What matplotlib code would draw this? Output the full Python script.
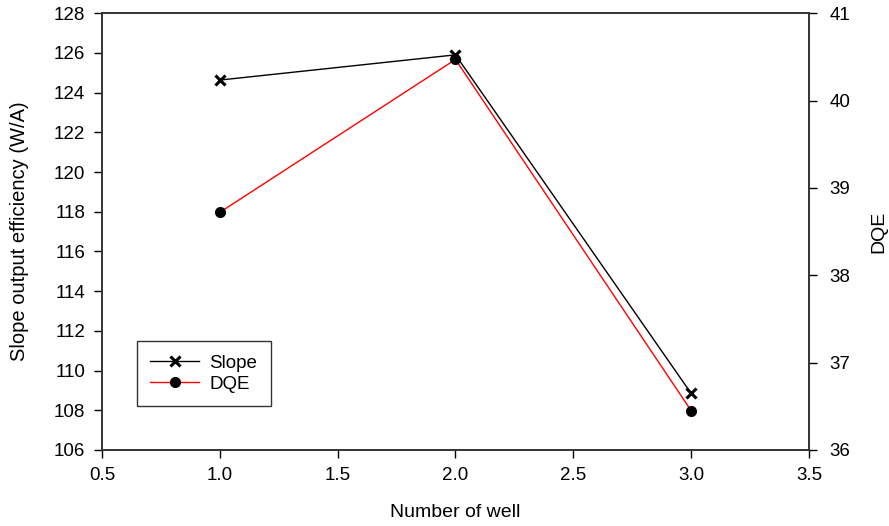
import matplotlib
matplotlib.use('Agg')
import matplotlib.pyplot as plt

plt.rcParams['font.family'] = ['Liberation Sans', 'DejaVu Sans']

wells = [1.0, 2.0, 3.0]
slope = [124.63, 125.9, 108.85]
dqe   = [38.72, 40.47, 36.45]

fig = plt.figure(figsize=(8.89, 5.26), dpi=100)
ax  = fig.add_axes([0.1147, 0.1445, 0.7953, 0.8305])
ax2 = ax.twinx()

l1, = ax.plot(wells, slope, color='black', lw=1, marker='x', ms=7, mew=2.2, label='Slope')
l2, = ax2.plot(wells, dqe, color='red', lw=1, marker='o', ms=7, mfc='black', mec='black', label='DQE')

ax.set_xlim(0.5, 3.5)
ax.set_ylim(106, 128)
ax2.set_ylim(36, 41)
ax.set_xticks([0.5, 1.0, 1.5, 2.0, 2.5, 3.0, 3.5])
ax.set_xticklabels(['0.5', '1.0', '1.5', '2.0', '2.5', '3.0', '3.5'])
ax.set_yticks(range(106, 129, 2))
ax2.set_yticks(range(36, 42))

for a in (ax, ax2):
    a.tick_params(axis='both', which='major', labelsize=13.5, direction='out', length=6, width=1, pad=6)
    for s in a.spines.values():
        s.set_linewidth(1.2)
        s.set_color('#333333')
ax2.tick_params(axis='y', pad=9)

ax.set_xlabel('Number of well', fontsize=14, labelpad=15)
ax.set_ylabel('Slope output efficiency (W/A)', fontsize=14.5, labelpad=18)
ax2.set_ylabel('DQE', fontsize=14, labelpad=14)

leg = ax.legend([l1, l2], ['Slope', 'DQE'], loc='lower left', bbox_to_anchor=(0.0495, 0.1),
                borderaxespad=0, fontsize=13.5, frameon=True, fancybox=False, edgecolor='black',
                handlelength=2.6, borderpad=0.72, labelspacing=0.2, handletextpad=0.55)
leg.get_frame().set_linewidth(1)

fig.savefig('out.png', dpi=100)
